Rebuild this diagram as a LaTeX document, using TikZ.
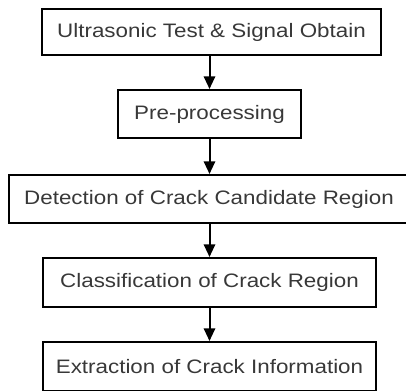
\documentclass[tikz,border=0pt]{standalone}
\usepackage{fontspec}
\setmainfont[FakeStretch=1.15]{Liberation Sans}
\usetikzlibrary{arrows.meta}
\begin{document}
\begin{tikzpicture}[x=0.75pt,y=-0.75pt,
  box/.style={draw, line width=1.5pt, inner sep=0pt, text=black!78,
    font=\fontsize{14.6}{16}\selectfont},
  arr/.style={line width=1.5pt, -{Triangle[length=9.5pt,width=8.5pt]}}]
\useasboundingbox (0,0) rectangle (406,390);
\clip (0,0) rectangle (406,390);
\node[box, minimum width=339*0.75pt, minimum height=46*0.75pt] (b1) at (211.5,32) {Ultrasonic Test \& Signal Obtain};
\node[box, minimum width=183*0.75pt, minimum height=48*0.75pt] (b2) at (209.5,114) {Pre-processing};
\node[box, minimum width=400*0.75pt, minimum height=48*0.75pt] (b3) at (209,199) {Detection of Crack Candidate Region};
\node[box, minimum width=333*0.75pt, minimum height=49*0.75pt] (b4) at (209.5,282.5) {Classification of Crack Region};
\node[box, minimum width=333*0.75pt, minimum height=49*0.75pt] (b5) at (209.5,366.5) {Extraction of Crack Information};
\draw[arr] (b2.north |- b1.south) -- (b2.north);
\draw[arr] (b2.south) -- (b2.south |- b3.north);
\draw[arr] (b4.north |- b3.south) -- (b4.north);
\draw[arr] (b4.south) -- (b5.north);
\end{tikzpicture}
\end{document}
